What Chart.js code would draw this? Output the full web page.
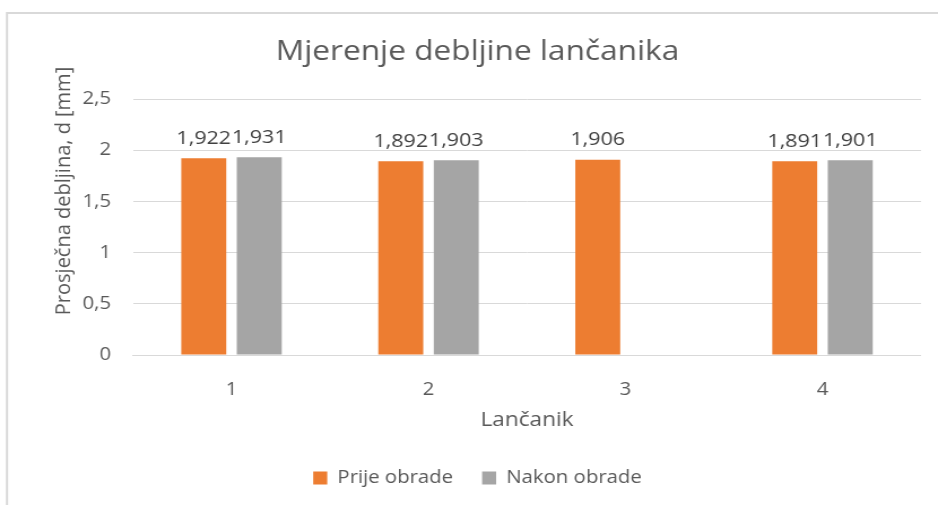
<!DOCTYPE html>
<html>
<head>
<meta charset="utf-8">
<script src="https://cdn.jsdelivr.net/npm/chart.js@4.4.1/dist/chart.umd.min.js"></script>
<style>
  html, body { margin: 0; padding: 0; background: #fff; overflow: hidden; }
  /* the source picture is a horizontally stretched Excel chart */
  #wrap { width: 830px; height: 505px; transform: scaleX(1.1301); transform-origin: 0 0; }
</style>
</head>
<body>
<div id="wrap"><canvas id="barChart" width="830" height="505"></canvas></div>
<script>
const categories = ["1", "2", "3", "4"];
const prijeObrade = [1.922, 1.892, 1.906, 1.891];
const nakonObrade = [1.931, 1.903, null, 1.901];
const yTicks = [0, 0.5, 1, 1.5, 2, 2.5];

const S = 1.1301;          // horizontal stretch of the page
const TEXT = "#595959";
const FONT = "'Open Sans', sans-serif";

const toComma = v => String(v).replace(".", ",");

// frame lines + y-axis title + value labels (Excel style)
const excelExtras = {
    id: "excelExtras",
    beforeDraw(chart) {
        const ctx = chart.ctx;
        ctx.save();
        ctx.fillStyle = "#fff";
        ctx.fillRect(0, 0, chart.width, chart.height);
        ctx.strokeStyle = "#d9d9d9";
        ctx.lineWidth = 2;
        ctx.beginPath();
        ctx.moveTo(6.2, chart.height);
        ctx.lineTo(6.2, 13);
        ctx.lineTo(chart.width, 13);
        ctx.stroke();
        ctx.restore();
    },
    afterDatasetsDraw(chart) {
        const ctx = chart.ctx;
        ctx.save();
        ctx.font = "19px " + FONT;
        ctx.fillStyle = "#404040";
        ctx.textAlign = "center";
        ctx.textBaseline = "middle";
        chart.data.datasets.forEach((ds, i) => {
            chart.getDatasetMeta(i).data.forEach((bar, j) => {
                const v = ds.data[j];
                if (v === null || v === undefined) return;
                ctx.fillText(toComma(v), bar.x, bar.y - 20);
            });
        });
        ctx.restore();
    },
    afterDraw(chart) {
        // rotated title is not stretched in the source, so undo the scale here
        const ctx = chart.ctx;
        ctx.save();
        ctx.translate(64 / S, 191);
        ctx.scale(1 / S, 1);
        ctx.rotate(-Math.PI / 2);
        ctx.font = "20px " + FONT;
        ctx.fillStyle = TEXT;
        ctx.textAlign = "center";
        ctx.textBaseline = "middle";
        ctx.fillText("Prosječna debljina, d [mm]", 0, 0);
        ctx.restore();
    }
};

new Chart(document.getElementById("barChart").getContext("2d"), {
    type: "bar",
    data: {
        labels: categories,
        datasets: [
            { label: "Prije obrade", data: prijeObrade, backgroundColor: "#ED7D31" },
            { label: "Nakon obrade", data: nakonObrade, backgroundColor: "#A5A5A5" }
        ]
    },
    options: {
        responsive: false,
        animation: false,
        categoryPercentage: 0.5635,
        barPercentage: 0.81,
        layout: { padding: { left: 34 / S, right: 17 / S, top: 0, bottom: 8 } },
        plugins: {
            title: {
                display: true,
                text: "Mjerenje debljine lančanika",
                color: TEXT,
                font: { family: FONT, size: 28, weight: "normal" },
                padding: { top: 35.2, bottom: 30.2 }
            },
            legend: {
                position: "bottom",
                labels: {
                    color: TEXT,
                    font: { family: FONT, size: 18 },
                    boxWidth: 12.4,
                    boxHeight: 13,
                    padding: 25.7
                }
            },
            tooltip: { enabled: false }
        },
        scales: {
            x: {
                grid: { display: false },
                border: { color: "#d9d9d9", width: 1 },
                ticks: { color: TEXT, font: { family: FONT, size: 18 }, padding: 16 },
                title: {
                    display: true,
                    text: "Lančanik",
                    color: TEXT,
                    font: { family: FONT, size: 20 },
                    padding: { top: 0, bottom: 11.5 }
                },
                afterFit(scale) { scale.height = 88.3; }
            },
            y: {
                min: 0,
                max: 2.5,
                afterBuildTicks(scale) { scale.ticks = yTicks.map(v => ({ value: v })); },
                grid: { color: "#d9d9d9", drawTicks: false },
                border: { display: false },
                ticks: {
                    color: TEXT,
                    font: { family: FONT, size: 18 },
                    padding: 22 / S,
                    callback: v => toComma(v)
                },
                afterFit(scale) { scale.width = 99 / S; }
            }
        }
    },
    plugins: [excelExtras]
});
</script>
</body>
</html>
